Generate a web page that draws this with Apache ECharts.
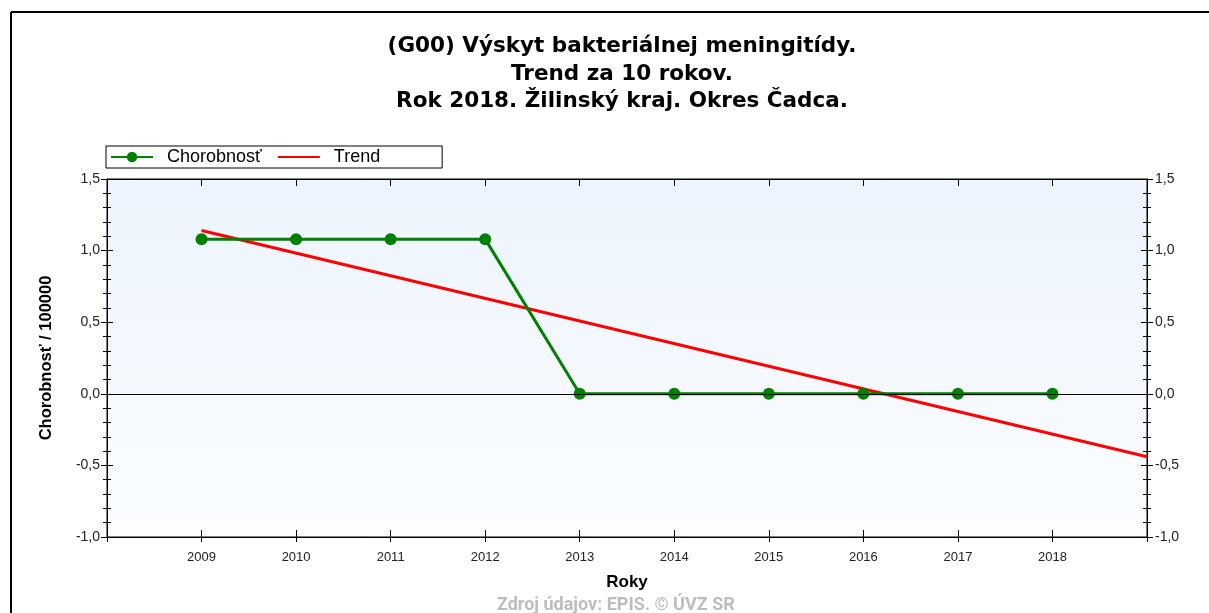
<!DOCTYPE html>
<html>
<head>
<meta charset="utf-8">
<script src="https://cdn.jsdelivr.net/npm/echarts@6/dist/echarts.min.js"></script>
<style>
html, body { margin: 0; padding: 0; background: #fff; }
#chart { width: 1209px; height: 613px; }
</style>
</head>
<body>
<div id="chart"></div>
<script>
// Výskyt bakteriálnej meningitídy - trend
var years = [2009, 2010, 2011, 2012, 2013, 2014, 2015, 2016, 2017, 2018];
var chorobnost = [1.08, 1.08, 1.08, 1.08, 0, 0, 0, 0, 0, 0];
var trendYears = [2009, 2019];
var trendValues = [1.14, -0.44];
var yTicks = [-1.0, -0.5, 0.0, 0.5, 1.0, 1.5];

(function(){
    var myChart = echarts.init(document.getElementById('chart'));
    var font = 'Liberation Sans, Arial, sans-serif';
    var wide = 'DejaVu Sans, Verdana, sans-serif';
    var fmtY = function(v) { return v.toFixed(1).replace('.', ','); };
    var fmtX = function(v) { return (v >= years[0] && v <= years[years.length - 1]) ? String(v) : ''; };

    var xBase = {
        type: 'value',
        min: 2008,
        max: 2019,
        interval: 1,
        splitLine: { show: false },
        axisLine: { show: true, onZero: false, lineStyle: { color: '#000', width: 1 } }
    };
    var yBase = {
        type: 'value',
        min: yTicks[0],
        max: yTicks[yTicks.length - 1],
        interval: 0.5,
        splitLine: { show: false },
        axisLine: { show: true, onZero: false, lineStyle: { color: '#000', width: 1 } },
        minorTick: { show: true, splitNumber: 5, length: 4, lineStyle: { color: '#000' } },
        axisTick: { length: 6, lineStyle: { color: '#000' } }
    };

    var option = {
        backgroundColor: '#fff',
        animation: false,
        title: {
            text: '(G00) Výskyt bakteriálnej meningitídy.\nTrend za 10 rokov.\nRok 2018. Žilinský kraj. Okres Čadca.',
            left: 617,
            textAlign: 'center',
            top: 28,
            textStyle: { fontFamily: wide, fontSize: 21.5, fontWeight: 'bold', color: '#000', lineHeight: 27.5 }
        },
        legend: {
            left: 106,
            top: 146,
            padding: [2, 62, 2, 4],
            borderColor: '#000',
            borderWidth: 1,
            borderRadius: 0,
            itemWidth: 42,
            itemHeight: 13,
            itemGap: 15,
            textStyle: { fontFamily: font, fontSize: 18, color: '#000', padding: [0, 0, 0, 9] },
            data: [
                { name: 'Chorobnosť' },
                { name: 'Trend', itemStyle: { opacity: 0 } }
            ]
        },
        grid: {
            left: 107,
            right: 62,
            top: 179,
            bottom: 76,
            show: true,
            borderColor: '#000',
            borderWidth: 1,
            backgroundColor: new echarts.graphic.LinearGradient(0, 0, 0, 1, [
                { offset: 0, color: '#edf4fd' },
                { offset: 1, color: '#fbfdff' }
            ])
        },
        graphic: [
            { type: 'line', shape: { x1: 11, y1: 12, x2: 1209, y2: 12 }, style: { stroke: '#000', lineWidth: 2 } },
            { type: 'line', shape: { x1: 11, y1: 12, x2: 11, y2: 613 }, style: { stroke: '#000', lineWidth: 2 } },
            {
                type: 'text', left: 497, top: 596,
                style: { text: 'Zdroj údajov: EPIS. © ÚVZ SR', fill: '#bdbdbd', font: 'bold 18px Roboto, sans-serif' }
            }
        ],
        xAxis: [
            Object.assign({}, xBase, {
                position: 'bottom',
                name: 'Roky',
                nameLocation: 'middle',
                nameGap: 37,
                nameTextStyle: { fontFamily: font, fontSize: 17, fontWeight: 'bold', color: '#000' },
                axisTick: { show: true, inside: false, length: 5, lineStyle: { color: '#000' } },
                axisLabel: { fontFamily: font, fontSize: 13, color: '#222', margin: 14, formatter: fmtX }
            }),
            Object.assign({}, xBase, {
                position: 'bottom',
                axisTick: { show: true, inside: true, length: 7, lineStyle: { color: '#000' } },
                axisLabel: { show: false }
            }),
            Object.assign({}, xBase, {
                position: 'top',
                axisTick: { show: true, inside: true, length: 7, lineStyle: { color: '#000' } },
                axisLabel: { show: false }
            })
        ],
        yAxis: [
            Object.assign({}, yBase, {
                position: 'left',
                name: 'Chorobnosť / 100000',
                nameLocation: 'middle',
                nameGap: 52,
                nameTextStyle: { fontFamily: font, fontSize: 16.5, fontWeight: 'bold', color: '#000' },
                axisLabel: { fontFamily: font, fontSize: 14, color: '#222', margin: 7, formatter: fmtY }
            }),
            Object.assign({}, yBase, {
                position: 'left',
                axisTick: { inside: true, length: 6, lineStyle: { color: '#000' } },
                minorTick: { show: true, splitNumber: 5, length: 4, lineStyle: { color: '#000' } },
                axisLabel: { show: false }
            }),
            Object.assign({}, yBase, {
                position: 'right',
                axisLabel: { fontFamily: font, fontSize: 14, color: '#222', margin: 8, formatter: fmtY }
            }),
            Object.assign({}, yBase, {
                position: 'right',
                axisTick: { inside: true, length: 6, lineStyle: { color: '#000' } },
                minorTick: { show: true, splitNumber: 5, length: 4, lineStyle: { color: '#000' } },
                axisLabel: { show: false }
            })
        ],
        series: [
            {
                name: 'zero',
                type: 'line',
                data: [],
                z: 1,
                silent: true,
                markLine: {
                    silent: true,
                    symbol: 'none',
                    label: { show: false },
                    lineStyle: { color: '#000', width: 1, type: 'solid' },
                    data: [{ yAxis: 0 }]
                }
            },
            {
                name: 'Trend',
                type: 'line',
                z: 2,
                data: trendYears.map(function(y, i) { return [y, trendValues[i]]; }),
                showSymbol: false,
                symbol: 'none',
                color: '#ff0000',
                lineStyle: { color: '#ff0000', width: 3 }
            },
            {
                name: 'Chorobnosť',
                type: 'line',
                z: 3,
                data: years.map(function(y, i) { return [y, chorobnost[i]]; }),
                symbol: 'circle',
                symbolSize: 12,
                color: '#008000',
                itemStyle: { color: '#008000' },
                lineStyle: { color: '#008000', width: 3 }
            }
        ]
    };
    myChart.setOption(option);
    window.addEventListener('resize', function() {
        myChart.resize();
    })
})();
</script>
</body>
</html>
